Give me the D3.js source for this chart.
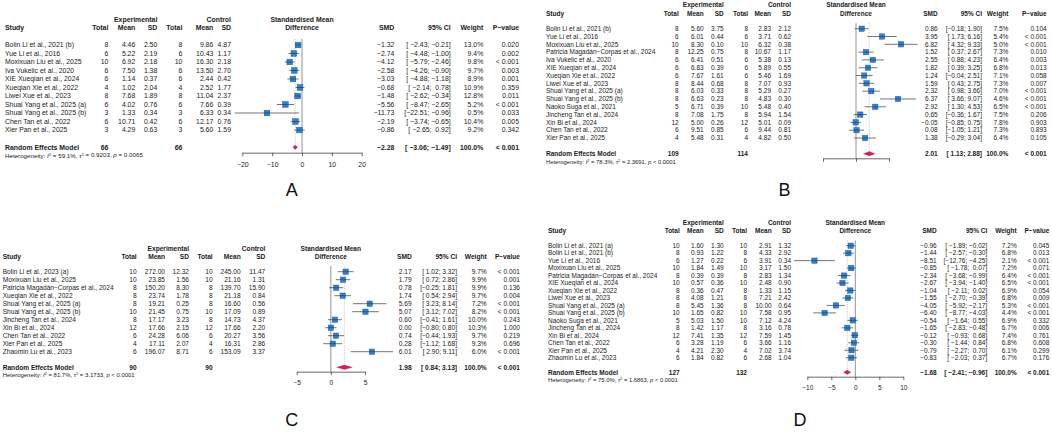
<!DOCTYPE html>
<html><head><meta charset="utf-8">
<script src="https://cdn.jsdelivr.net/npm/d3@7"></script>
<style>
body{margin:0;background:#fff}
svg{display:block;font-family:"Liberation Sans",Arial,Helvetica,sans-serif}
</style></head><body>
<svg id="chart" width="1052" height="446"></svg>
<script>
// ---------------- Panel A data ----------------
const aStudies = ["Bolin Li et al., 2021 (b)","Yue Li et al., 2016","Moxixuan Liu et al., 2025","Iva Vukelic et al., 2020","XIE Xueqian et al., 2024","Xueqian Xie et al., 2022","Liwei Xue et al., 2023","Shuai Yang et al., 2025 (a)","Shuai Yang et al., 2025 (b)","Chen Tan et al., 2022","Xier Pan et al., 2025"];
const aExpN = [8,6,10,6,6,4,8,6,3,6,3];
const aExpMean = [4.46,5.22,6.92,7.50,1.14,1.02,7.68,4.02,1.33,10.71,4.29];
const aExpSD = [2.50,2.19,2.18,1.38,0.37,2.04,1.89,0.76,0.34,0.42,0.63];
const aCtlN = [8,6,10,6,6,4,8,6,3,6,3];
const aCtlMean = [9.86,10.43,16.30,13.50,2.44,2.52,11.04,7.66,6.33,12.17,5.60];
const aCtlSD = [4.87,1.17,2.18,2.70,0.42,1.77,2.37,0.39,0.34,0.76,1.59];
const aSMD = [-1.32,-2.74,-4.12,-2.58,-3.03,-0.68,-1.48,-5.56,-11.73,-2.19,-0.86];
const aLo = [-2.43,-4.48,-5.79,-4.26,-4.88,-2.14,-2.62,-8.47,-22.51,-3.74,-2.65];
const aHi = [-0.21,-1.00,-2.46,-0.90,-1.18,0.78,-0.34,-2.65,-0.96,-0.65,0.92];
const aWeight = [13.0,9.4,9.8,9.7,8.9,10.9,12.8,5.2,0.5,10.4,9.2];
const aP = ["0.020","0.002","< 0.001","0.003","0.001","0.359","0.011","< 0.001","0.033","0.005","0.342"];
const aPooled = [66, 66, -2.28, -3.06, -1.49, "< 0.001"];
const aHet = ["59.1%", "0.9203", "= 0.0065"];
const aTicks = [-20,-10,0,10,20];

// ---------------- Panel B data ----------------
const bStudies = ["Bolin Li et al., 2021 (b)","Yue Li et al., 2016","Moxixuan Liu et al., 2025","Patricia Magadán−Corpas et al., 2024","Iva Vukelic et al., 2020","XIE Xueqian et al., 2024","Xueqian Xie et al., 2022","Liwei Xue et al., 2023","Shuai Yang et al., 2025 (a)","Shuai Yang et al., 2025 (b)","Naoko Suga et al., 2021","Jincheng Tan et al., 2024","Xin Bi et al., 2024","Chen Tan et al., 2022","Xier Pan et al., 2025"];
const bExpN = [8,6,10,8,6,6,6,8,8,8,5,8,12,6,4];
const bExpMean = [5.60,6.01,8.30,12.25,6.41,6.83,7.67,8.44,6.03,6.63,6.71,7.08,5.00,9.51,5.48];
const bExpSD = [3.75,0.44,0.10,0.75,0.51,0.39,1.61,0.68,0.33,0.23,0.39,1.75,0.26,0.85,0.31];
const bCtlN = [8,6,10,8,6,6,6,8,8,8,10,8,12,6,4];
const bCtlMean = [2.83,3.71,6.32,10.67,5.38,5.89,5.46,7.07,5.29,4.83,5.48,5.94,5.01,9.44,4.82];
const bCtlSD = [2.12,0.62,0.38,1.17,0.13,0.55,1.69,0.93,0.27,0.30,0.40,1.54,0.09,0.81,0.50];
const bSMD = [0.86,3.95,6.82,1.52,2.55,1.82,1.24,1.59,2.32,6.37,2.92,0.65,-0.05,0.08,1.38];
const bLo = [-0.18,1.73,4.32,0.37,0.88,0.39,-0.04,0.43,0.98,3.66,1.30,-0.36,-0.85,-1.05,-0.29];
const bHi = [1.90,6.16,9.33,2.67,4.23,3.25,2.51,2.75,3.66,9.07,4.53,1.67,0.75,1.21,3.04];
const bWeight = [7.5,5.4,5.0,7.3,6.4,6.8,7.1,7.3,7.0,4.6,6.5,7.5,7.8,7.3,6.4];
const bP = ["0.104","< 0.001","< 0.001","0.010","0.003","0.013","0.058","0.007","< 0.001","< 0.001","< 0.001","0.206","0.903","0.893","0.105"];
const bPooled = [109, 114, 2.01, 1.13, 2.88, "< 0.001"];
const bHet = ["78.3%", "2.3691", "< 0.0001"];
const bTicks = [-5,0,5];

// ---------------- Panel C data ----------------
const cStudies = ["Bolin Li et al., 2023 (a)","Moxixuan Liu et al., 2025","Patricia Magadán−Corpas et al., 2024","Xueqian Xie et al., 2022","Shuai Yang et al., 2025 (a)","Shuai Yang et al., 2025 (b)","Jincheng Tan et al., 2024","Xin Bi et al., 2024","Chen Tan et al., 2022","Xier Pan et al., 2025","Zhaomin Lu et al., 2023"];
const cExpN = [10,10,8,8,8,10,8,12,6,4,6];
const cExpMean = [272.00,23.85,150.20,23.74,19.21,21.45,17.17,17.66,24.28,17.11,196.07];
const cExpSD = [12.32,1.56,8.30,1.78,0.25,0.75,3.23,2.15,6.06,2.07,8.71];
const cCtlN = [10,10,8,8,8,10,8,12,6,4,6];
const cCtlMean = [245.00,21.16,139.70,21.18,16.60,17.09,14.73,17.66,20.27,16.31,153.09];
const cCtlSD = [11.47,1.31,15.90,0.84,0.56,0.89,4.37,2.20,3.56,2.86,3.37];
const cSMD = [2.17,1.79,0.78,1.74,5.69,5.07,0.60,0.00,0.74,0.28,6.01];
const cLo = [1.02,0.72,-0.25,0.54,3.23,3.12,-0.41,-0.80,-0.44,-1.12,2.90];
const cHi = [3.32,2.86,1.81,2.94,8.14,7.02,1.61,0.80,1.93,1.68,9.11];
const cWeight = [9.7,9.9,9.9,9.7,7.2,8.2,10.0,10.3,9.7,9.3,6.0];
const cP = ["< 0.001","0.001","0.136","0.004","< 0.001","< 0.001","0.243","1.000","0.219","0.696","< 0.001"];
const cPooled = [90, 90, 1.98, 0.84, 3.13, "< 0.001"];
const cHet = ["81.7%", "3.1733", "< 0.0001"];
const cTicks = [-5,0,5];

// ---------------- Panel D data ----------------
const dStudies = ["Bolin Li et al., 2021 (a)","Bolin Li et al., 2021 (b)","Yue Li et al., 2016","Moxixuan Liu et al., 2025","Patricia Magadán−Corpas et al., 2024","XIE Xueqian et al., 2024","Xueqian Xie et al., 2022","Liwei Xue et al., 2023","Shuai Yang et al., 2025 (a)","Shuai Yang et al., 2025 (b)","Naoko Suga et al., 2021","Jincheng Tan et al., 2024","Xin Bi et al., 2024","Chen Tan et al., 2022","Xier Pan et al., 2025","Zhaomin Lu et al., 2023"];
const dExpN = [10,8,6,10,8,10,8,8,8,10,5,8,12,6,4,6];
const dExpMean = [1.60,0.93,1.27,1.84,0.39,0.57,0.36,4.08,5.45,1.65,5.03,1.42,7.41,3.28,4.21,1.84];
const dExpSD = [1.30,1.22,0.22,1.49,0.39,0.36,0.47,1.21,1.36,0.82,1.50,1.17,1.35,1.19,2.30,0.82];
const dCtlN = [10,8,6,10,8,10,8,8,8,10,10,8,12,6,4,6];
const dCtlMean = [2.91,4.33,3.91,3.17,2.83,2.48,1.33,7.21,10.00,7.58,7.12,3.16,7.59,3.66,7.02,2.68];
const dCtlSD = [1.32,2.92,0.34,1.50,1.34,0.90,1.15,2.42,0.64,0.95,4.24,0.78,1.45,1.16,3.74,1.04];
const dSMD = [-0.96,-1.44,-8.51,-0.85,-2.34,-2.67,-1.04,-1.55,-4.05,-6.40,-0.54,-1.65,-0.12,-0.30,-0.79,-0.83];
const dLo = [-1.89,-2.57,-12.76,-1.78,-3.68,-3.94,-2.11,-2.70,-5.92,-8.77,-1.64,-2.83,-0.93,-1.44,-2.27,-2.03];
const dHi = [-0.02,-0.30,-4.25,0.07,-0.99,-1.40,0.02,-0.39,-2.17,-4.03,0.55,-0.48,0.68,0.84,0.70,0.37];
const dWeight = [7.2,6.8,2.1,7.2,6.4,6.5,6.9,6.8,5.3,4.4,6.9,6.7,7.4,6.8,6.1,6.7];
const dP = ["0.045","0.013","< 0.001","0.071","< 0.001","< 0.001","0.054","0.009","< 0.001","< 0.001","0.332","0.006","0.761","0.608","0.299","0.176"];
const dPooled = [127, 132, -1.68, -2.41, -0.96, "< 0.001"];
const dHet = ["75.0%", "1.6863", "< 0.0001"];
const dTicks = [-10,-5,0,5,10];

// ---------------- Layouts (positions / sizes only) ----------------
const layoutA = {fs:6.9, study:5, expN:108.3, expMean:135.3, expSD:157.3, ctlN:182.3, ctlMean:213.3, ctlSD:231,
  range:[242.3,361.7], smd:394.3, ci:450.7, w:483.3, p:519, h1:19.3, h2:28, row0:45, rowN:130,
  pooledY:147.3, het:155.7, axisY:152.7, labels:true, letter:"A", letterX:291.7, letterY:196, sq:5.6};
const layoutB = {fs:6.5, study:546, expN:678.7, expMean:703.7, expSD:723.7, ctlN:748, ctlMean:771, ctlSD:791,
  range:[823,889], smd:937.7, ci:982, w:1008.3, p:1046.7, h1:5, h2:13.3, row0:28.7, rowN:138,
  pooledY:153.7, het:162.3, axisY:158.3, labels:false, letter:"B", letterX:784.5, letterY:196, sq:5.3};
const layoutC = {fs:6.6, study:2.7, expN:136.7, expMean:165, expSD:189, ctlN:212.7, ctlMean:240.7, ctlSD:265.3,
  range:[296.7,365], smd:411.7, ci:457, w:486.7, p:520, h1:248.3, h2:256.3, row0:271.7, rowN:351.7,
  pooledY:367.3, het:375.3, axisY:371.7, labels:true, letter:"C", letterX:291.7, letterY:426, sq:5.3};
const layoutD = {fs:6.5, study:548, expN:679.7, expMean:703.7, expSD:723.7, ctlN:747, ctlMean:771.7, ctlSD:791,
  range:[807.3,903.3], smd:936.7, ci:987.3, w:1016.7, p:1049.3, h1:223, h2:231, row0:245.7, rowN:357.7,
  pooledY:372.3, het:380.3, axisY:376.7, labels:true, letter:"D", letterX:800, letterY:426, sq:5.3};

const svg = d3.select("#chart");
const TXT = "#1a1a1a";
const num = v => (v < 0 ? "\u2212" : "") + Math.abs(v).toFixed(2);

function drawForest(d, L) {
  const g = svg.append("g");
  const n = d.studies.length;
  const y = d3.scaleLinear().domain([0, n - 1]).range([L.row0, L.rowN]);
  const x = d3.scaleLinear().domain([d.ticks[0], d.ticks[d.ticks.length - 1]]).range(L.range);
  const text = (xp, yp, s, anchor, bold, size) => g.append("text")
    .attr("x", xp).attr("y", yp).attr("dy", "0.35em")
    .attr("text-anchor", anchor).attr("font-size", size || L.fs)
    .attr("font-weight", bold ? "bold" : "normal").attr("fill", TXT)
    .style("white-space", "pre").text(s);

  // headers
  const midX = (L.range[0] + L.range[1]) / 2;
  text(L.expSD, L.h1, "Experimental", "end", true);
  text(L.ctlSD, L.h1, "Control", "end", true);
  text(midX, L.h1, "Standardised Mean", "middle", true);
  text(L.study, L.h2, "Study", "start", true);
  [["Total", L.expN], ["Mean", L.expMean], ["SD", L.expSD], ["Total", L.ctlN], ["Mean", L.ctlMean], ["SD", L.ctlSD],
   ["SMD", L.smd], ["95% CI", L.ci], ["Weight", L.w], ["P\u2212value", L.p]].forEach(([s, xp]) => text(xp, L.h2, s, "end", true));
  text(midX, L.h2, "Difference", "middle", true);

  // CI string formatting with padding like R meta
  const loS = d.lo.concat([d.pooled[3]]).map(num);
  const hiS = d.hi.concat([d.pooled[4]]).map(num);
  const wl = d3.max(loS, s => s.length), wh = d3.max(hiS, s => s.length);
  const ciStr = i => "[" + " ".repeat(wl - loS[i].length) + loS[i] + "; " + " ".repeat(wh - hiS[i].length) + hiS[i] + "]";

  // study rows
  d.studies.forEach((s, i) => {
    const yy = y(i);
    text(L.study, yy, s, "start");
    text(L.expN, yy, String(d.expN[i]), "end");
    text(L.expMean, yy, d.expMean[i].toFixed(2), "end");
    text(L.expSD, yy, d.expSD[i].toFixed(2), "end");
    text(L.ctlN, yy, String(d.ctlN[i]), "end");
    text(L.ctlMean, yy, d.ctlMean[i].toFixed(2), "end");
    text(L.ctlSD, yy, d.ctlSD[i].toFixed(2), "end");
    text(L.smd, yy, num(d.smd[i]), "end");
    text(L.ci, yy, ciStr(i), "end");
    text(L.w, yy, d.weight[i].toFixed(1) + "%", "end");
    text(L.p, yy, d.p[i], "end");
  });

  // pooled row
  const py = L.pooledY;
  text(L.study, py, "Random Effects Model", "start", true);
  text(L.expN, py, String(d.pooled[0]), "end", true);
  text(L.ctlN, py, String(d.pooled[1]), "end", true);
  text(L.smd, py, num(d.pooled[2]), "end", true);
  text(L.ci, py, ciStr(n), "end", true);
  text(L.w, py, "100.0%", "end", true);
  text(L.p, py, d.pooled[5], "end", true);

  // heterogeneity
  const ht = g.append("text").attr("x", L.study).attr("y", L.het).attr("dy", "0.35em")
    .attr("font-size", L.fs * 0.9).attr("fill", TXT).style("white-space", "pre");
  ht.append("tspan").text("Heterogeneity: ");
  ht.append("tspan").attr("font-style", "italic").text("I");
  ht.append("tspan").attr("font-size", L.fs * 0.6).attr("dy", "-0.5em").text("2");
  ht.append("tspan").attr("dy", "0.3em").text(" = " + d.het[0] + ", ");
  ht.append("tspan").attr("font-style", "italic").text("\u03C4");
  ht.append("tspan").attr("font-size", L.fs * 0.6).attr("dy", "-0.5em").text("2");
  ht.append("tspan").attr("dy", "0.3em").text(" = " + d.het[1] + ", ");
  ht.append("tspan").attr("font-style", "italic").text("p");
  ht.append("tspan").text(" " + d.het[2]);

  const step = (L.rowN - L.row0) / (n - 1);
  // zero line
  g.append("line").attr("x1", x(0)).attr("x2", x(0))
    .attr("y1", L.row0 - step * 0.7).attr("y2", L.axisY)
    .attr("stroke", "#777").attr("stroke-width", 0.8);
  // pooled dotted line
  g.append("line").attr("x1", x(d.pooled[2])).attr("x2", x(d.pooled[2]))
    .attr("y1", L.row0 - step * 0.7).attr("y2", py)
    .attr("stroke", "#aaa").attr("stroke-width", 0.7).attr("stroke-dasharray", "1,1.2");

  // squares and CI lines
  const idx = d3.range(n);
  g.selectAll("rect.sq").data(idx).join("rect").attr("class", "sq")
    .attr("x", i => x(d.smd[i]) - L.sq / 2).attr("y", i => y(i) - L.sq / 2)
    .attr("width", L.sq).attr("height", L.sq)
    .attr("fill", "#2a83d8").attr("stroke", "#1b5d9f").attr("stroke-width", 0.5);
  g.selectAll("line.ci").data(idx).join("line").attr("class", "ci")
    .attr("x1", i => x(d.lo[i])).attr("x2", i => x(d.hi[i]))
    .attr("y1", i => y(i)).attr("y2", i => y(i))
    .attr("stroke", "#3a3a3a").attr("stroke-width", 0.7);

  // diamond
  const dh = 2.2;
  g.append("polygon").attr("points", [
    [x(d.pooled[3]), py], [x(d.pooled[2]), py - dh], [x(d.pooled[4]), py], [x(d.pooled[2]), py + dh]
  ].map(p => p.join(",")).join(" ")).attr("fill", "#d2205e").attr("stroke", "#b0134a").attr("stroke-width", 0.3);

  // axis
  const ax = d3.axisBottom(x).tickValues(d.ticks).tickSize(3.5).tickSizeOuter(0).tickPadding(5.5)
    .tickFormat(L.labels ? d3.format("") : () => "");
  const ag = g.append("g").attr("transform", `translate(0,${L.axisY})`).call(ax);
  ag.select(".domain").attr("stroke", "#444").attr("stroke-width", 0.8);
  ag.selectAll(".tick line").attr("stroke", "#444").attr("stroke-width", 0.8);
  ag.selectAll(".tick text").attr("font-size", L.fs).attr("fill", TXT)
    .attr("font-family", "'Liberation Sans',Arial,sans-serif");

  // panel letter
  g.append("text").attr("x", L.letterX).attr("y", L.letterY).attr("text-anchor", "middle")
    .attr("font-size", 18).attr("fill", "#111").text(L.letter);
}

drawForest({studies:aStudies, expN:aExpN, expMean:aExpMean, expSD:aExpSD, ctlN:aCtlN, ctlMean:aCtlMean, ctlSD:aCtlSD,
  smd:aSMD, lo:aLo, hi:aHi, weight:aWeight, p:aP, pooled:aPooled, het:aHet, ticks:aTicks}, layoutA);
drawForest({studies:bStudies, expN:bExpN, expMean:bExpMean, expSD:bExpSD, ctlN:bCtlN, ctlMean:bCtlMean, ctlSD:bCtlSD,
  smd:bSMD, lo:bLo, hi:bHi, weight:bWeight, p:bP, pooled:bPooled, het:bHet, ticks:bTicks}, layoutB);
drawForest({studies:cStudies, expN:cExpN, expMean:cExpMean, expSD:cExpSD, ctlN:cCtlN, ctlMean:cCtlMean, ctlSD:cCtlSD,
  smd:cSMD, lo:cLo, hi:cHi, weight:cWeight, p:cP, pooled:cPooled, het:cHet, ticks:cTicks}, layoutC);
drawForest({studies:dStudies, expN:dExpN, expMean:dExpMean, expSD:dExpSD, ctlN:dCtlN, ctlMean:dCtlMean, ctlSD:dCtlSD,
  smd:dSMD, lo:dLo, hi:dHi, weight:dWeight, p:dP, pooled:dPooled, het:dHet, ticks:dTicks}, layoutD);
</script>
</body></html>
